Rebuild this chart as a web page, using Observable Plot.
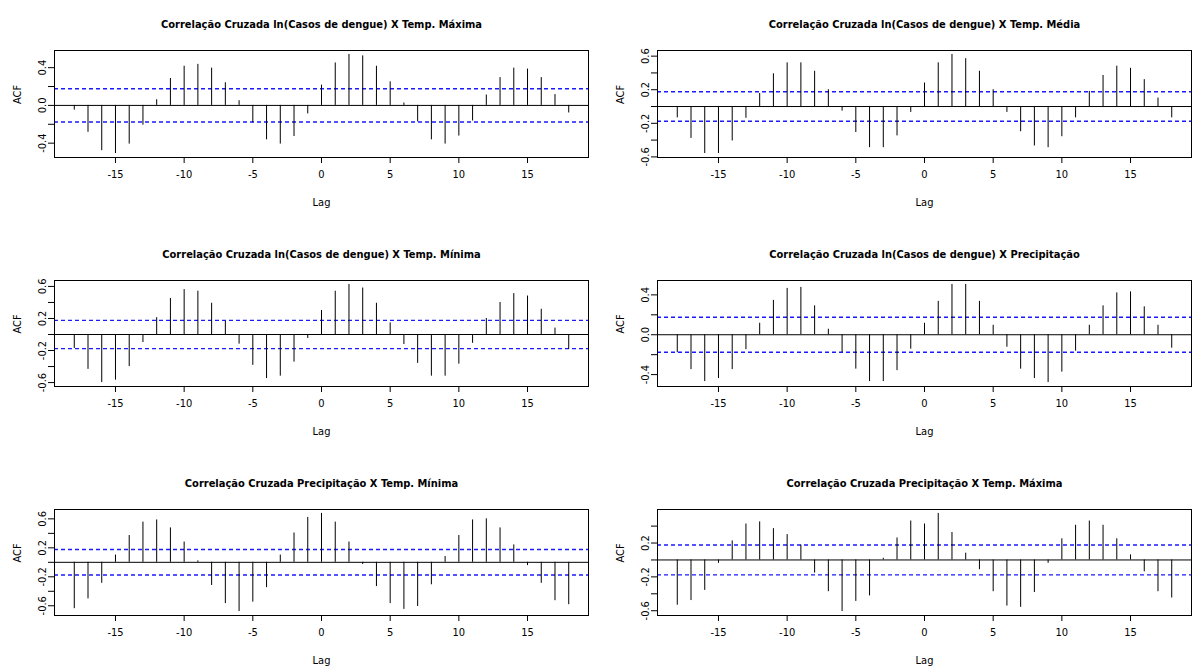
<!DOCTYPE html>
<html>
<head>
<meta charset="utf-8">
<script src="https://cdn.jsdelivr.net/npm/d3@7"></script>
<script src="https://cdn.jsdelivr.net/npm/@observablehq/plot@0.6"></script>
<style>
  body { margin: 0; background: #fff; }
  #root { position: relative; width: 1192px; height: 670px; overflow: hidden; background: #fff; }
  .panel { position: absolute; }
</style>
</head>
<body>
<div id="root"></div>
<script>
// ---- data ----
const lags = [-18,-17,-16,-15,-14,-13,-12,-11,-10,-9,-8,-7,-6,-5,-4,-3,-2,-1,0,1,2,3,4,5,6,7,8,9,10,11,12,13,14,15,16,17,18];
const xTicks = [-15, -10, -5, 0, 5, 10, 15];
const ciLevel = 0.176;

const titles = [
  "Correlação Cruzada ln(Casos de dengue) X Temp. Máxima",
  "Correlação Cruzada ln(Casos de dengue) X Temp. Média",
  "Correlação Cruzada ln(Casos de dengue) X Temp. Mínima",
  "Correlação Cruzada ln(Casos de dengue) X Precipitação",
  "Correlação Cruzada Precipitação X Temp. Mínima",
  "Correlação Cruzada Precipitação X Temp. Máxima"
];

const ccfDengueTempMax = [-0.05,-0.285,-0.48,-0.51,-0.41,-0.21,0.06,0.285,0.415,0.435,0.395,0.24,0.05,-0.185,-0.365,-0.41,-0.33,-0.09,
  0.215,0.45,0.54,0.525,0.415,0.25,0.025,-0.175,-0.365,-0.41,-0.325,-0.165,0.11,0.295,0.395,0.385,0.295,0.115,-0.08];
const ccfDengueTempMed = [-0.135,-0.38,-0.56,-0.56,-0.41,-0.14,0.155,0.39,0.52,0.52,0.42,0.20,-0.055,-0.31,-0.49,-0.49,-0.35,-0.07,
  0.28,0.52,0.62,0.57,0.42,0.20,-0.07,-0.30,-0.47,-0.49,-0.36,-0.135,0.18,0.37,0.48,0.455,0.32,0.10,-0.135];
const ccfDengueTempMin = [-0.175,-0.435,-0.60,-0.57,-0.40,-0.10,0.21,0.45,0.56,0.54,0.39,0.165,-0.12,-0.385,-0.55,-0.52,-0.345,-0.05,
  0.30,0.54,0.625,0.58,0.39,0.145,-0.125,-0.36,-0.52,-0.52,-0.37,-0.11,0.20,0.40,0.51,0.48,0.315,0.08,-0.185];
const ccfDenguePrecip = [-0.18,-0.35,-0.47,-0.44,-0.35,-0.15,0.115,0.345,0.465,0.475,0.29,0.055,-0.18,-0.345,-0.47,-0.47,-0.36,-0.145,
  0.115,0.335,0.505,0.505,0.335,0.095,-0.125,-0.345,-0.44,-0.48,-0.375,-0.165,0.095,0.29,0.42,0.43,0.28,0.095,-0.135];
const ccfPrecipTempMin = [-0.64,-0.505,-0.29,0.10,0.37,0.555,0.585,0.475,0.28,0.02,-0.32,-0.57,-0.68,-0.55,-0.35,0.10,0.405,0.62,
  0.675,0.555,0.28,-0.03,-0.335,-0.57,-0.65,-0.61,-0.31,0.08,0.37,0.585,0.60,0.475,0.24,-0.045,-0.29,-0.53,-0.585];
const ccfPrecipTempMax = [-0.535,-0.48,-0.36,-0.04,0.225,0.425,0.45,0.37,0.30,0.175,-0.155,-0.375,-0.61,-0.49,-0.425,0.02,0.26,0.46,
  0.425,0.55,0.325,0.08,-0.115,-0.375,-0.545,-0.56,-0.385,-0.04,0.25,0.41,0.46,0.41,0.25,0.06,-0.14,-0.375,-0.45];

const yTicksA = [-0.4, -0.2, 0, 0.2, 0.4];
const yLabelsA = [-0.4, 0, 0.4];
const yTicksB = [-0.6, -0.4, -0.2, 0, 0.2, 0.4, 0.6];
const yLabelsB = [-0.6, -0.2, 0.2, 0.6];
const yTicksC = [-0.6, -0.4, -0.2, 0, 0.2, 0.4];
const yLabelsC = [-0.6, -0.2, 0.2];

// ---- layout ----
const FONT = '"Liberation Sans Narrow", "Arial Narrow", "DejaVu Sans Condensed", "Liberation Sans", sans-serif';
const cols = [
  {left: 0, width: 596, marginLeft: 54, marginRight: 8},
  {left: 596, width: 596, marginLeft: 61, marginRight: 1}
];
const rows = [
  {top: 0, height: 225, marginTop: 50, marginBottom: 68},
  {top: 225, height: 225, marginTop: 55, marginBottom: 64},
  {top: 450, height: 220, marginTop: 59, marginBottom: 55}
];

const panels = [
  {title: titles[0], values: ccfDengueTempMax, yTicks: yTicksA, yLabels: yLabelsA, row: 0, col: 0},
  {title: titles[1], values: ccfDengueTempMed, yTicks: yTicksB, yLabels: yLabelsB, row: 0, col: 1},
  {title: titles[2], values: ccfDengueTempMin, yTicks: yTicksB, yLabels: yLabelsB, row: 1, col: 0},
  {title: titles[3], values: ccfDenguePrecip, yTicks: yTicksA, yLabels: yLabelsA, row: 1, col: 1},
  {title: titles[4], values: ccfPrecipTempMin, yTicks: yTicksB, yLabels: yLabelsB, row: 2, col: 0},
  {title: titles[5], values: ccfPrecipTempMax, yTicks: yTicksC, yLabels: yLabelsC, row: 2, col: 1}
];

function makePanel(p) {
  const c = cols[p.col], r = rows[p.row];
  const data = p.values.map((v, i) => ({lag: lags[i], acf: v}));
  const [ymin, ymax] = d3.extent(p.values);
  const ypad = 0.04 * (ymax - ymin);
  const [xmin, xmax] = d3.extent(lags);
  const xpad = 0.04 * (xmax - xmin);
  const isLabel = d => p.yLabels.some(l => Math.abs(l - d) < 1e-9);
  const chart = Plot.plot({
    width: c.width,
    height: r.height,
    marginLeft: c.marginLeft,
    marginRight: c.marginRight,
    marginTop: r.marginTop,
    marginBottom: r.marginBottom,
    style: {fontFamily: FONT, fontSize: "11px", background: "white", color: "black", overflow: "visible"},
    x: {domain: [xmin - xpad, xmax + xpad]},
    y: {domain: [ymin - ypad, ymax + ypad]},
    marks: [
      Plot.ruleY([ciLevel, -ciLevel], {stroke: "#1a1aff", strokeWidth: 1.4, strokeDasharray: "4,3"}),
      Plot.ruleY([0], {stroke: "black", strokeWidth: 1}),
      Plot.ruleX(data, {x: "lag", y1: 0, y2: "acf", stroke: "black", strokeWidth: 1}),
      Plot.frame({stroke: "black", strokeWidth: 1}),
      Plot.axisX({ticks: xTicks, tickSize: 6, tickPadding: 7, tickFormat: d => String(d), label: null}),
      Plot.axisY({ticks: p.yTicks, tickSize: 6, tickPadding: 3, tickRotate: -90,
        tickFormat: d => isLabel(d) ? (Math.abs(d) < 1e-9 ? "0.0" : d.toFixed(1)) : "", label: null}),
      Plot.text(["ACF"], {text: d => d, frameAnchor: "left", dx: -37, rotate: -90, fontSize: 11}),
      Plot.text(["Lag"], {text: d => d, frameAnchor: "bottom", dy: 48, fontSize: 11}),
      Plot.text([p.title], {text: d => d, frameAnchor: "top", dy: -30, fontSize: 11, fontWeight: "bold"})
    ]
  });
  const wrap = document.createElement("div");
  wrap.className = "panel";
  wrap.style.left = c.left + "px";
  wrap.style.top = r.top + "px";
  wrap.appendChild(chart);
  return wrap;
}

const root = document.getElementById("root");
panels.forEach(p => root.appendChild(makePanel(p)));
</script>
</body>
</html>
